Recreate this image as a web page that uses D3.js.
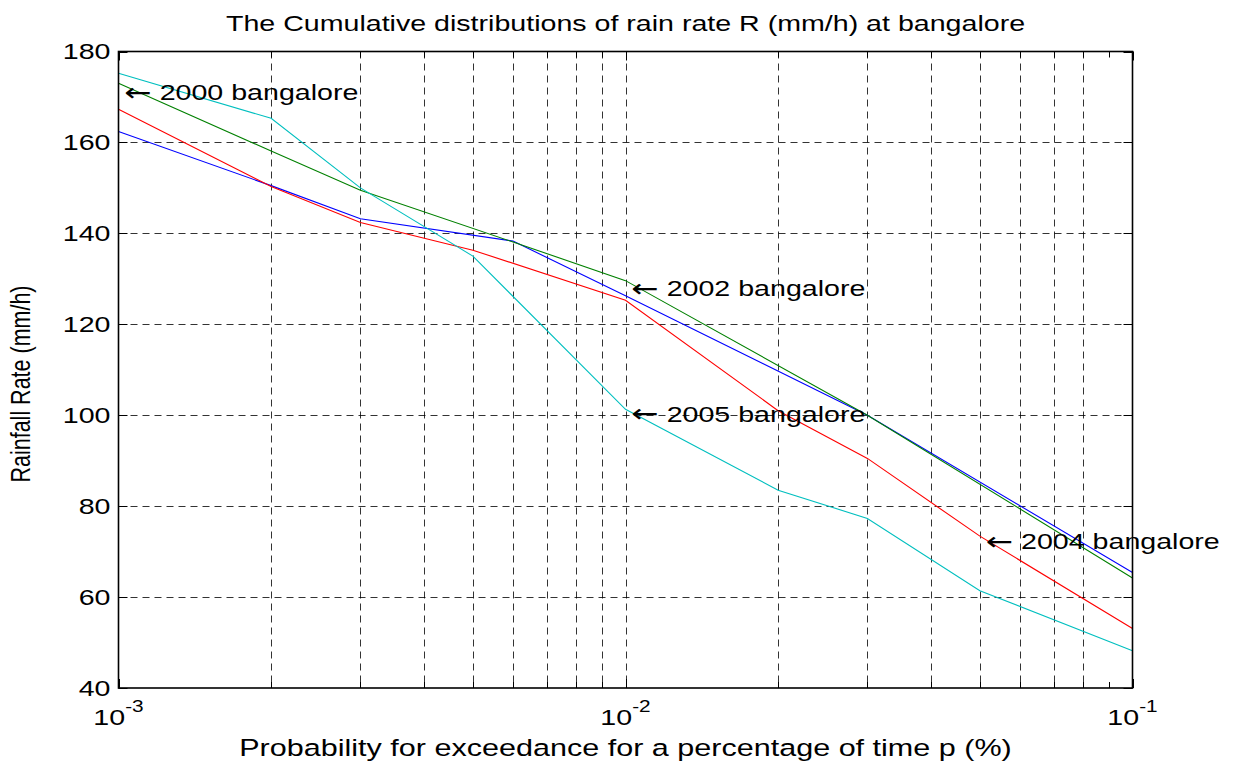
<!DOCTYPE html>
<html>
<head>
<meta charset="utf-8">
<script src="https://cdn.jsdelivr.net/npm/d3@7"></script>
<style>
  html, body { margin: 0; padding: 0; background: #fff; }
  text { font-family: "Liberation Sans", Arial, Helvetica, sans-serif; fill: #000; }
</style>
</head>
<body>
<svg id="chart" width="1239" height="765"></svg>
<script>
// Probabilities (%) and rain rates (mm/h) for each curve
const blueP = [0.001, 0.002, 0.003, 0.006, 0.01, 0.03, 0.1];
const blueRate = [162.4, 150.5, 143.2, 138.3, 126.3, 100, 65.4];

const greenP = [0.001, 0.002, 0.003, 0.006, 0.01, 0.03, 0.1];
const greenRate = [173, 158.1, 149.5, 138.1, 129.6, 100, 64.2];

const redP = [0.001, 0.002, 0.003, 0.005, 0.01, 0.02, 0.03, 0.05, 0.1];
const redRate = [167.3, 150.3, 142.4, 136.3, 125.3, 101, 90.5, 73.4, 53.1];

const cyanP = [0.001, 0.002, 0.003, 0.005, 0.01, 0.02, 0.03, 0.05, 0.1];
const cyanRate = [175.2, 165.3, 150, 135, 101.3, 83.5, 77.3, 61.4, 48.2];

// Text annotations (label, probability, rate)
const noteLabels = ["2000 bangalore", "2002 bangalore", "2005 bangalore", "2004 bangalore"];
const noteP = [0.001, 0.01, 0.01, 0.05];
const noteRate = [171, 128, 100.3, 72.2];

const yTicks = [40, 60, 80, 100, 120, 140, 160, 180];
const xMajor = [0.001, 0.01, 0.1];
const xExponents = ["-3", "-2", "-1"];

const titleText = "The Cumulative distributions of rain rate R (mm/h) at bangalore";
const xLabel = "Probability for exceedance for a percentage of time p (%)";
const yLabel = "Rainfall Rate (mm/h)";

// the reference is stretched horizontally, so text is widened
const SX = 1.3;
const FONT = 22;

const margin = { left: 118.5, right: 1132.5, top: 51.5, bottom: 688 };
const svg = d3.select("#chart");

const x = d3.scaleLog().domain([0.001, 0.1]).range([margin.left, margin.right]);
const y = d3.scaleLinear().domain([40, 180]).range([margin.bottom, margin.top]);

// stretched text helper
function label(g, px, py, str, opts = {}) {
    const t = g.append("g")
        .attr("transform", `translate(${px},${py}) scale(${SX},1)` + (opts.rotate ? ` rotate(${opts.rotate})` : ""))
        .append("text")
        .attr("font-size", opts.size || FONT)
        .attr("text-anchor", opts.anchor || "start")
        .attr("dominant-baseline", opts.baseline || "auto")
        .text(str);
    return t;
}

// grid
const grid = svg.append("g")
    .attr("stroke", "#000")
    .attr("stroke-opacity", 0.8)
    .attr("stroke-dasharray", "7,5")
    .attr("fill", "none");

x.ticks().filter(d => d > 0.0011 && d < 0.09).forEach(d => {
    grid.append("line")
        .attr("x1", Math.round(x(d)) + 0.5).attr("x2", Math.round(x(d)) + 0.5)
        .attr("y1", margin.top).attr("y2", margin.bottom);
});
yTicks.slice(1, -1).forEach(d => {
    grid.append("line")
        .attr("x1", margin.left).attr("x2", margin.right)
        .attr("y1", Math.round(y(d)) + 0.5).attr("y2", Math.round(y(d)) + 0.5);
});

// series lines
const line = d3.line().x(d => x(d[0])).y(d => y(d[1]));
const series = [
    { p: blueP, r: blueRate, color: "#0000ff" },
    { p: redP, r: redRate, color: "#ff0000" },
    { p: greenP, r: greenRate, color: "#008000" },
    { p: cyanP, r: cyanRate, color: "#00bfbf" }
];
series.forEach(s => {
    svg.append("path")
        .datum(d3.zip(s.p, s.r))
        .attr("fill", "none")
        .attr("stroke", s.color)
        .attr("stroke-width", 1.1)
        .attr("d", line);
});

// axes box and ticks
const axes = svg.append("g").attr("stroke", "#000").attr("fill", "none");
axes.append("rect")
    .attr("x", margin.left).attr("y", margin.top)
    .attr("width", margin.right - margin.left)
    .attr("height", margin.bottom - margin.top)
    .attr("stroke-width", 1.6);

x.ticks().forEach(d => {
    const len = xMajor.includes(d) ? 9 : 6;
    const px = Math.round(x(d)) + 0.5;
    axes.append("line").attr("x1", px).attr("x2", px).attr("y1", margin.bottom).attr("y2", margin.bottom - len);
    axes.append("line").attr("x1", px).attr("x2", px).attr("y1", margin.top).attr("y2", margin.top + len);
});
yTicks.forEach(d => {
    const py = Math.round(y(d)) + 0.5;
    axes.append("line").attr("x1", margin.left).attr("x2", margin.left + 9).attr("y1", py).attr("y2", py);
    axes.append("line").attr("x1", margin.right).attr("x2", margin.right - 9).attr("y1", py).attr("y2", py);
});

// tick labels
const tickG = svg.append("g");
yTicks.forEach(d => {
    label(tickG, margin.left - 8, y(d), String(d), { anchor: "end", baseline: "central" });
});
xMajor.forEach((d, i) => {
    const t = label(tickG, x(d), 725, "", { anchor: "middle" });
    t.append("tspan").text("10");
    t.append("tspan").attr("font-size", 16).attr("dy", -13).text(xExponents[i]);
});

// annotations: wide arrow glyph, then the label
const noteG = svg.append("g");
noteLabels.forEach((s, i) => {
    const t = label(noteG, x(noteP[i]) + 6, y(noteRate[i]), "", { baseline: "central" });
    t.append("tspan").attr("font-family", "DejaVu Sans").attr("font-size", 25).text("\u2190");
    t.append("tspan").text(" " + s);
});

// title and axis labels
label(svg, (margin.left + margin.right) / 2, 31, titleText, { anchor: "middle", size: 22 });
label(svg, (margin.left + margin.right) / 2, 756, xLabel, { anchor: "middle", size: 23.5 });
label(svg, 30, 384, yLabel, { anchor: "middle", rotate: -90, size: 21.5 });
</script>
</body>
</html>
